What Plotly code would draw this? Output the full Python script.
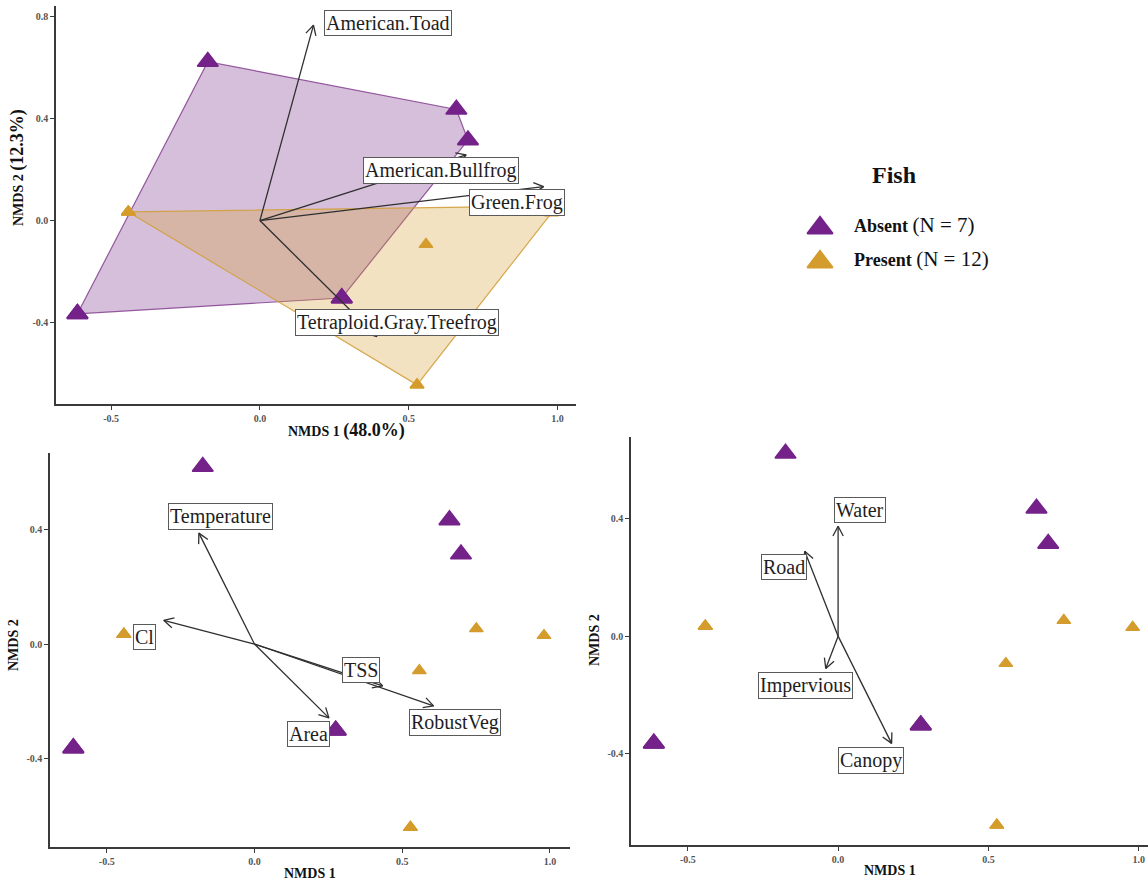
import numpy as np
import plotly.graph_objects as go

# ---------------- data ----------------
# NMDS site scores, split by fish status
absent_x = [-0.175, 0.660, 0.699, 0.275, 0.275, -0.613, -0.613]
absent_y = [0.622, 0.435, 0.315, -0.303, -0.303, -0.365, -0.365]
present_x = [-0.442, -0.442, -0.442, -0.442, -0.442, 0.751, 0.980, 0.558, 0.528, 0.528, 0.275, 0.275]
present_y = [0.034, 0.034, 0.034, 0.034, 0.034, 0.054, 0.030, -0.093, -0.643, -0.643, -0.303, -0.303]

# fitted species vectors
species = ["American.Toad", "American.Bullfrog", "Green.Frog", "Tetraploid.Gray.Treefrog"]
species_x = [0.180, 0.693, 0.953, 0.393]
species_y = [0.765, 0.257, 0.133, -0.454]

# fitted water-quality / pond vectors
water_vars = ["Temperature", "Cl", "TSS", "RobustVeg", "Area"]
water_x = [-0.188, -0.307, 0.434, 0.606, 0.252]
water_y = [0.389, 0.083, -0.147, -0.217, -0.259]

# fitted land-cover vectors
land_vars = ["Water", "Road", "Impervious", "Canopy"]
land_x = [0.0, -0.111, -0.041, 0.178]
land_y = [0.374, 0.289, -0.110, -0.365]

x_ticks = [-0.5, 0.0, 0.5, 1.0]
x_ticktext = ["-0.5", "0.0", "0.5", "1.0"]

# ---------------- styling / placement ----------------
W, H = 1148, 883
PURPLE = "#74228A"
GOLD = "#D49C2C"
INK = "#2F2F2F"
SERIF = "Liberation Serif"

# repelled label placement (data units)
label_pos = {
    "American.Toad": (0.431, 0.772),
    "American.Bullfrog": (0.608, 0.196),
    "Green.Frog": (0.864, 0.072),
    "Tetraploid.Gray.Treefrog": (0.460, -0.398),
    "Temperature": (-0.116, 0.448),
    "Cl": (-0.371, 0.025),
    "TSS": (0.362, -0.092),
    "RobustVeg": (0.678, -0.277),
    "Area": (0.182, -0.317),
    "Water": (0.072, 0.431),
    "Road": (-0.181, 0.236),
    "Impervious": (-0.108, -0.168),
    "Canopy": (0.108, -0.424),
}

panels = [
    dict(k="", px=(56, 576), py=(6, 404), xr=(-0.685, 1.062), yr=(-0.718, 0.84),
         yt=[-0.4, 0.0, 0.4, 0.8], ytt=["-0.4", "0.0", "0.4", "0.8"]),
    dict(k="2", px=(50, 570), py=(453, 847), xr=(-0.692, 1.068), yr=(-0.712, 0.67),
         yt=[-0.4, 0.0, 0.4], ytt=["-0.4", "0.0", "0.4"]),
    dict(k="3", px=(631, 1148), py=(437, 845), xr=(-0.689, 1.031), yr=(-0.711, 0.678),
         yt=[-0.4, 0.0, 0.4], ytt=["-0.4", "0.0", "0.4"]),
]


def convex_hull(xs, ys):
    pts = sorted(set(zip(xs, ys)))

    def cross(o, a, b):
        return (a[0] - o[0]) * (b[1] - o[1]) - (a[1] - o[1]) * (b[0] - o[0])

    lower, upper = [], []
    for p in pts:
        while len(lower) >= 2 and cross(lower[-2], lower[-1], p) <= 0:
            lower.pop()
        lower.append(p)
    for p in reversed(pts):
        while len(upper) >= 2 and cross(upper[-2], upper[-1], p) <= 0:
            upper.pop()
        upper.append(p)
    ring = lower[:-1] + upper[:-1]
    ring.append(ring[0])
    return [p[0] for p in ring], [p[1] for p in ring]


def arrow_paths(vx, vy, panel, head=11.0, spread=np.radians(28)):
    """Segments from the origin to each vector tip plus an open V head."""
    sx = (panel["px"][1] - panel["px"][0]) / (panel["xr"][1] - panel["xr"][0])
    sy = (panel["py"][1] - panel["py"][0]) / (panel["yr"][1] - panel["yr"][0])
    xs, ys = [], []
    for x, y in zip(vx, vy):
        xs += [0, x, None]
        ys += [0, y, None]
        dx, dy = x * sx, y * sy
        n = np.hypot(dx, dy)
        ux, uy = -dx / n, -dy / n
        arms = []
        for s in (spread, -spread):
            rx = ux * np.cos(s) - uy * np.sin(s)
            ry = ux * np.sin(s) + uy * np.cos(s)
            arms.append((x + head * rx / sx, y + head * ry / sy))
        xs += [arms[0][0], x, arms[1][0], None]
        ys += [arms[0][1], y, arms[1][1], None]
    return xs, ys


fig = go.Figure()


def add_points(p):
    fig.add_trace(go.Scatter(x=present_x, y=present_y, mode="markers", xaxis="x" + p["k"], yaxis="y" + p["k"],
                             marker=dict(symbol="triangle-up", size=12, color=GOLD,
                                         line=dict(width=1.2, color=GOLD)),
                             showlegend=False, hoverinfo="skip"))
    fig.add_trace(go.Scatter(x=absent_x, y=absent_y, mode="markers", xaxis="x" + p["k"], yaxis="y" + p["k"],
                             marker=dict(symbol="triangle-up", size=18, color=PURPLE,
                                         line=dict(width=1.8, color=PURPLE)),
                             showlegend=False, hoverinfo="skip"))


def add_vectors(p, names, vx, vy):
    ax, ay = arrow_paths(vx, vy, p)
    fig.add_trace(go.Scatter(x=ax, y=ay, mode="lines", xaxis="x" + p["k"], yaxis="y" + p["k"],
                             line=dict(color=INK, width=1.3), showlegend=False, hoverinfo="skip"))
    for name in names:
        lx, ly = label_pos[name]
        fig.add_annotation(x=lx, y=ly, xref="x" + p["k"], yref="y" + p["k"], text=name, showarrow=False,
                           font=dict(family=SERIF, size=20, color="#1E1E1E"),
                           bgcolor="white", bordercolor="#5A5A5A", borderwidth=1, borderpad=1)


# panel 1: hulls, points, species vectors
p1 = panels[0]
hx, hy = convex_hull(absent_x, absent_y)
fig.add_trace(go.Scatter(x=hx, y=hy, mode="lines", fill="toself", fillcolor="rgba(118,42,131,0.30)",
                         line=dict(color="rgba(118,42,131,0.75)", width=1.2), showlegend=False, hoverinfo="skip"))
hx, hy = convex_hull(present_x, present_y)
fig.add_trace(go.Scatter(x=hx, y=hy, mode="lines", fill="toself", fillcolor="rgba(214,160,50,0.30)",
                         line=dict(color="rgba(210,160,60,0.9)", width=1.2), showlegend=False, hoverinfo="skip"))
add_points(p1)
add_vectors(p1, species, species_x, species_y)

# panel 2: water-quality vectors
add_points(panels[1])
add_vectors(panels[1], water_vars, water_x, water_y)

# panel 3: land-cover vectors
add_points(panels[2])
add_vectors(panels[2], land_vars, land_x, land_y)

# axes
layout_axes = {}
tickfont = dict(family=SERIF, size=10, color="#555555", weight="bold")
for p in panels:
    xd = [p["px"][0] / W, p["px"][1] / W]
    yd = [1 - p["py"][1] / H, 1 - p["py"][0] / H]
    common = dict(showline=True, linecolor="#3A3A3A", linewidth=1.5, showgrid=False, zeroline=False,
                  ticks="outside", ticklen=4, tickcolor="#3A3A3A", tickwidth=1, tickfont=tickfont,
                  fixedrange=True)
    layout_axes["xaxis" + p["k"]] = dict(domain=xd, range=list(p["xr"]), anchor="y" + p["k"],
                                         tickvals=x_ticks, ticktext=x_ticktext, **common)
    layout_axes["yaxis" + p["k"]] = dict(domain=yd, range=list(p["yr"]), anchor="x" + p["k"],
                                         tickvals=p["yt"], ticktext=p["ytt"], **common)

# legend drawn on its own hidden axis, measured in pixels
leg_box = (780, 1080, 150, 300)
layout_axes["xaxis4"] = dict(domain=[leg_box[0] / W, leg_box[1] / W], range=[leg_box[0], leg_box[1]],
                             visible=False, anchor="y4", fixedrange=True)
layout_axes["yaxis4"] = dict(domain=[1 - leg_box[3] / H, 1 - leg_box[2] / H], range=[leg_box[3], leg_box[2]],
                             visible=False, anchor="x4", fixedrange=True)
legend_groups = ["Absent", "Present"]
legend_counts = [len(absent_x), len(present_x)]
legend_colors = [PURPLE, GOLD]
legend_rows = [228, 262]
fig.add_trace(go.Scatter(x=[820, 820], y=legend_rows, mode="markers", xaxis="x4", yaxis="y4",
                         marker=dict(symbol="triangle-up", size=22, color=legend_colors,
                                     line=dict(width=2, color=legend_colors)),
                         showlegend=False, hoverinfo="skip"))
for name, n, row in zip(legend_groups, legend_counts, legend_rows):
    fig.add_annotation(x=852, y=row - 3, xref="x4", yref="y4", xanchor="left", yanchor="middle",
                       showarrow=False,
                       text=f"<b>{name}</b> <span style='font-size:21px'>(N = {n})</span>",
                       font=dict(family=SERIF, size=18, color="#111111"))
fig.add_annotation(x=894, y=175, xref="x4", yref="y4", text="<b>Fish</b>", showarrow=False,
                   font=dict(family=SERIF, size=24, color="#111111"))


def paper_note(text, px, py, size=14, angle=0):
    fig.add_annotation(x=px / W, y=1 - py / H, xref="paper", yref="paper", text=text, showarrow=False,
                       textangle=angle, xanchor="center", yanchor="middle",
                       font=dict(family=SERIF, size=size, color="#111111"))


# axis titles
paper_note("<b>NMDS 1 <span style='font-size:18px'>(48.0%)</span></b>", 346, 431, 14)
paper_note("<b>NMDS 2 <span style='font-size:18px'>(12.3%)</span></b>", 18, 168, 14, -90)
paper_note("<b>NMDS 1</b>", 310, 873, 14)
paper_note("<b>NMDS 2</b>", 13, 645, 14, -90)
paper_note("<b>NMDS 1</b>", 890, 870, 14)
paper_note("<b>NMDS 2</b>", 594, 640, 14, -90)

fig.update_layout(width=W, height=H, margin=dict(l=0, r=0, t=0, b=0),
                  paper_bgcolor="white", plot_bgcolor="white", showlegend=False, **layout_axes)

fig.write_html("out.html")
